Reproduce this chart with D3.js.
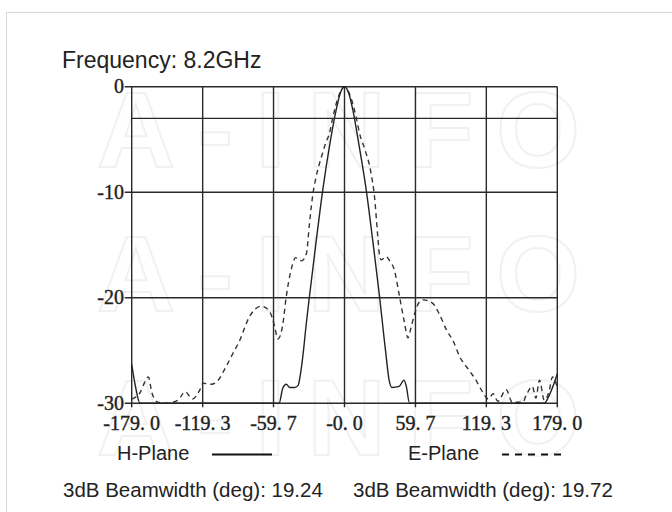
<!DOCTYPE html>
<html>
  <head>
    <meta charset="utf-8">
    <script src="https://cdn.jsdelivr.net/npm/d3@7"></script>
    <style>
      body { margin: 0; background: #fff; }
      svg { display: block; }
    </style>
  </head>
  <body>
    <script>
      // tick values and labels
      var xTicks = [-179, -119.3, -59.7, 0, 59.7, 119.3, 179];
      var xTickLabels = ["-179. 0", "-119. 3", "-59. 7", "-0. 0", "59. 7", "119. 3", "179. 0"];
      var yGrid = [0, -3, -10, -20, -30];
      var yTicks = [0, -10, -20, -30];

      // H-Plane (solid)
      var hAngles = [-179, -176, -172, -124, -55, -52, -49, -46, -42, -39, -37, -35.1, -32, -29.5, -24, -18.3, -12, -7, -3.5, 0,
                     3.5, 7, 12, 18.3, 24, 29.5, 33, 35.1, 37.5, 40, 46, 50, 52, 54.7, 168, 172, 176, 179];
      var hDb = [-26.3, -28.3, -30, -30, -30, -28.6, -28.2, -28.5, -28.5, -28.3, -27.2, -25.6, -22.3, -19.9, -14.8, -9.8, -5.2, -2.2, -0.6, 0,
                 -0.6, -2.2, -5.4, -9.8, -14.8, -19.9, -23.5, -25.6, -27.8, -28.5, -28.4, -27.8, -28.4, -30, -30, -29.3, -28.2, -27.2];

      // E-Plane (dashed)
      var eAngles = [-179, -172, -168, -165, -162, -157, -150, -140, -134, -128, -122, -119, -112, -107, -100, -94, -88, -80, -70, -63, -59,
                     -56, -52, -49, -45, -41, -36, -32, -29.5, -26.5, -23.8, -19, -15.4, -12.6, -10, -5, 0,
                     5, 10, 12.6, 17, 22, 25.3, 28, 29.5, 31, 35, 38, 42, 46.3, 50.5, 53.3, 56, 59, 63, 66, 74, 80, 86, 91, 97,
                     105, 110, 116, 121, 125, 129, 136, 141, 150, 153, 158, 161, 164, 168, 172, 175, 179];
      var eDb = [-29.6, -29.0, -28.0, -27.5, -29.0, -29.9, -30, -29.7, -28.9, -29.6, -28.8, -28.1, -28.2, -27.9, -26.6, -25.3, -24, -21.8, -20.8, -21.3, -22.6,
                 -23.9, -22.6, -19.9, -17.4, -16.2, -16.5, -15.8, -13, -10.1, -8.5, -6.5, -5.2, -4.4, -3, -0.9, 0,
                 -0.9, -3, -4.4, -5.9, -8, -10.5, -14.2, -16, -16.4, -16.1, -16.5, -17.4, -19.9, -22.4, -23.8, -22.8, -21.5, -20.4, -20.2, -20.5, -21.6, -23.1, -24, -25.6,
                 -26.9, -27.7, -28.9, -29.6, -29.1, -29.8, -28.7, -29.9, -29.9, -29.2, -28.4, -29.5, -27.8, -29.7, -28.9, -27.5, -28.5];

      var hPlane = hAngles.map(function(a, i) { return {a: a, v: hDb[i]}; });
      var ePlane = eAngles.map(function(a, i) { return {a: a, v: eDb[i]}; });

      var width = 672, height = 512;
      var plotLeft = 131.7, plotRight = 557.3, plotTop = 86.7, plotBottom = 403.3;

      var svg = d3.select("body").append("svg")
          .attr("width", width)
          .attr("height", height);

      // faint frame round the picture
      svg.append("rect")
          .attr("x", 6.5).attr("y", 12.5)
          .attr("width", 720).attr("height", 540)
          .attr("fill", "none")
          .attr("stroke", "#d9d9d9");

      // watermark
      [89, 233, 377].forEach(function(t) {
        svg.append("text")
            .attr("x", 97).attr("y", t + 78)
            .attr("textLength", 483)
            .attr("lengthAdjust", "spacing")
            .attr("font-family", "Liberation Sans, Arial, sans-serif")
            .attr("font-weight", "bold")
            .attr("font-size", 108)
            .attr("fill", "none")
            .attr("stroke", "#f1f1f1")
            .attr("stroke-width", 2)
            .text("A-INFO");
      });

      var x = d3.scaleLinear().domain([-179, 179]).range([plotLeft, plotRight]);
      var y = d3.scaleLinear().domain([0, -30]).range([plotTop, plotBottom]);

      var ink = "#2a2a2a";

      // grid
      svg.append("g").selectAll("line").data(xTicks).join("line")
          .attr("x1", function(d) { return x(d); })
          .attr("x2", function(d) { return x(d); })
          .attr("y1", y(0))
          .attr("y2", y(-30) + 4)
          .attr("stroke", ink)
          .attr("stroke-width", 1.4);

      svg.append("g").selectAll("line").data(yGrid).join("line")
          .attr("x1", function(d) { return d % 10 === 0 ? plotLeft - 7 : plotLeft; })
          .attr("x2", plotRight)
          .attr("y1", function(d) { return y(d); })
          .attr("y2", function(d) { return y(d); })
          .attr("stroke", ink)
          .attr("stroke-width", 1.4);

      // tick labels (a touch of stroke so they look like the scanned print)
      svg.append("g").selectAll("text").data(xTicks).join("text")
          .attr("x", function(d) { return x(d); })
          .attr("y", 430)
          .attr("text-anchor", "middle")
          .attr("font-family", "Liberation Serif, Times New Roman, serif")
          .attr("font-size", 20)
          .attr("fill", "#222")
          .attr("stroke", "#222")
          .attr("stroke-width", 0.4)
          .text(function(d, i) { return xTickLabels[i]; });

      svg.append("g").selectAll("text").data(yTicks).join("text")
          .attr("x", 124)
          .attr("y", function(d) { return y(d); })
          .attr("dy", "0.33em")
          .attr("text-anchor", "end")
          .attr("font-family", "Liberation Serif, Times New Roman, serif")
          .attr("font-size", 20)
          .attr("fill", "#222")
          .attr("stroke", "#222")
          .attr("stroke-width", 0.4)
          .text(function(d) { return d; });

      // curves
      var line = d3.line()
          .x(function(d) { return x(d.a); })
          .y(function(d) { return y(d.v); })
          .curve(d3.curveMonotoneX);

      svg.append("path")
          .datum(ePlane)
          .attr("d", line)
          .attr("fill", "none")
          .attr("stroke", "#333")
          .attr("stroke-width", 1.4)
          .attr("stroke-dasharray", "5,4");

      svg.append("path")
          .datum(hPlane)
          .attr("d", line)
          .attr("fill", "none")
          .attr("stroke", "#222")
          .attr("stroke-width", 1.4);

      // title and legend
      var sans = "Liberation Sans, Arial, sans-serif";
      svg.append("text")
          .attr("x", 62).attr("y", 68)
          .attr("font-family", sans)
          .attr("font-size", 23)
          .attr("fill", "#222")
          .text("Frequency: 8.2GHz");

      svg.append("text")
          .attr("x", 117).attr("y", 460)
          .attr("font-family", sans).attr("font-size", 20).attr("fill", "#222")
          .text("H-Plane");
      svg.append("line")
          .attr("x1", 212).attr("x2", 272)
          .attr("y1", 454.5).attr("y2", 454.5)
          .attr("stroke", "#111").attr("stroke-width", 2);

      svg.append("text")
          .attr("x", 408).attr("y", 460)
          .attr("font-family", sans).attr("font-size", 20).attr("fill", "#222")
          .text("E-Plane");
      svg.append("line")
          .attr("x1", 502).attr("x2", 562)
          .attr("y1", 454.5).attr("y2", 454.5)
          .attr("stroke", "#111").attr("stroke-width", 2)
          .attr("stroke-dasharray", "7,6");

      svg.append("text")
          .attr("x", 63).attr("y", 497)
          .attr("font-family", sans).attr("font-size", 20.5).attr("fill", "#222")
          .text("3dB Beamwidth (deg): 19.24");
      svg.append("text")
          .attr("x", 353).attr("y", 497)
          .attr("font-family", sans).attr("font-size", 20.5).attr("fill", "#222")
          .text("3dB Beamwidth (deg): 19.72");
    </script>
  </body>
</html>
